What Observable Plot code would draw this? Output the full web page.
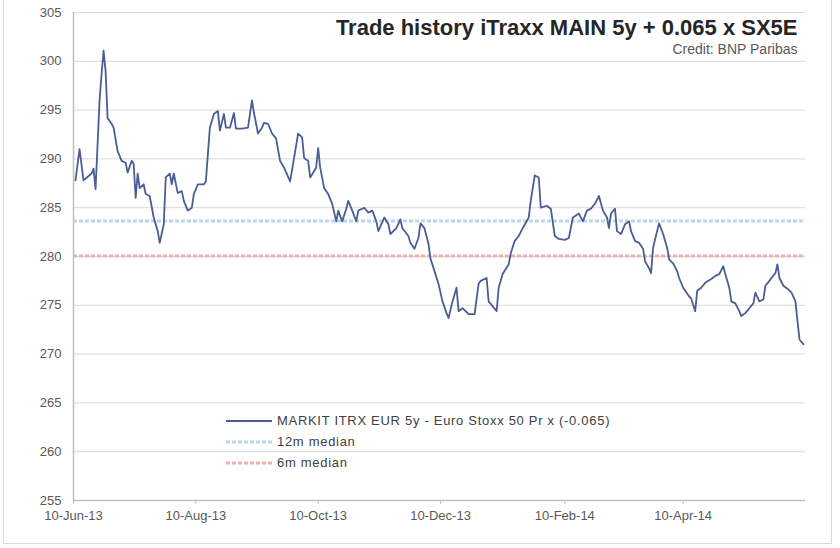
<!DOCTYPE html>
<html>
<head>
<meta charset="utf-8">
<script src="https://cdn.jsdelivr.net/npm/d3@7"></script>
<script src="https://cdn.jsdelivr.net/npm/@observablehq/plot@0.6"></script>
<style>
  html, body { margin: 0; padding: 0; background: #fff; }
  #wrap { position: relative; width: 840px; height: 548px; overflow: hidden; font-family: "Liberation Sans", Arial, sans-serif; }
  #frame { position: absolute; left: 3px; top: -2px; width: 829px; height: 546px; border: 1px solid #d9d9d9; box-sizing: border-box; pointer-events: none; }
  #legend { position: absolute; left: 226px; top: 410px; font-size: 13px; letter-spacing: 0.7px; color: #404040; line-height: 21px; }
  #legend .row { display: flex; align-items: center; height: 21px; }
  #legend svg { margin-right: 5px; }
</style>
</head>
<body>
<div id="wrap">
  <div id="chart"></div>
  <div id="frame"></div>
  <div id="legend"></div>
</div>
<script>
const titleText = "Trade history iTraxx MAIN 5y + 0.065 x SX5E";
const creditText = "Credit: BNP Paribas";
const seriesName = "MARKIT ITRX EUR 5y - Euro Stoxx 50 Pr x (-0.065)";
const median12Name = "12m median";
const median6Name = "6m median";

const dates = [
  "2013-06-11","2013-06-13","2013-06-15","2013-06-19","2013-06-20","2013-06-21","2013-06-23","2013-06-24","2013-06-25","2013-06-26",
  "2013-06-27","2013-06-29","2013-06-30","2013-07-02","2013-07-04","2013-07-06","2013-07-07","2013-07-09","2013-07-10","2013-07-11",
  "2013-07-12","2013-07-13","2013-07-15","2013-07-16","2013-07-18","2013-07-20","2013-07-22","2013-07-23","2013-07-25","2013-07-26",
  "2013-07-28","2013-07-29","2013-07-30","2013-08-01","2013-08-03","2013-08-04","2013-08-06","2013-08-08","2013-08-09","2013-08-11",
  "2013-08-14","2013-08-15","2013-08-17","2013-08-19","2013-08-21","2013-08-22","2013-08-24","2013-08-25","2013-08-27","2013-08-29",
  "2013-08-30","2013-09-02","2013-09-05","2013-09-07","2013-09-08","2013-09-10","2013-09-12","2013-09-13","2013-09-15","2013-09-17",
  "2013-09-19","2013-09-21","2013-09-23","2013-09-26","2013-09-28","2013-09-30","2013-10-02","2013-10-03","2013-10-05","2013-10-06",
  "2013-10-09","2013-10-10","2013-10-11","2013-10-13","2013-10-15","2013-10-17","2013-10-19","2013-10-20","2013-10-22","2013-10-24",
  "2013-10-25","2013-10-27","2013-10-29","2013-10-30","2013-11-02","2013-11-04","2013-11-06","2013-11-08","2013-11-09","2013-11-12",
  "2013-11-14","2013-11-15","2013-11-18","2013-11-20","2013-11-21","2013-11-24","2013-11-25","2013-11-27","2013-11-29","2013-11-30",
  "2013-12-02","2013-12-04","2013-12-05","2013-12-07","2013-12-09","2013-12-11","2013-12-13","2013-12-14","2013-12-16","2013-12-18",
  "2013-12-19","2013-12-21","2013-12-24","2013-12-27","2013-12-29","2013-12-30","2014-01-02","2014-01-03","2014-01-07","2014-01-08",
  "2014-01-10","2014-01-13","2014-01-14","2014-01-16","2014-01-18","2014-01-20","2014-01-23","2014-01-24","2014-01-26","2014-01-28",
  "2014-01-29","2014-02-01","2014-02-03","2014-02-05","2014-02-07","2014-02-10","2014-02-12","2014-02-14","2014-02-17","2014-02-19",
  "2014-02-21","2014-02-23","2014-02-25","2014-02-27","2014-03-01","2014-03-03","2014-03-04","2014-03-05","2014-03-07","2014-03-08",
  "2014-03-10","2014-03-12","2014-03-14","2014-03-15","2014-03-17","2014-03-19","2014-03-21","2014-03-22","2014-03-24","2014-03-25",
  "2014-03-26","2014-03-28","2014-03-29","2014-03-31","2014-04-02","2014-04-03","2014-04-05","2014-04-07","2014-04-08","2014-04-10",
  "2014-04-13","2014-04-14","2014-04-16","2014-04-17","2014-04-19","2014-04-21","2014-04-24","2014-04-26","2014-04-28","2014-04-30",
  "2014-05-01","2014-05-03","2014-05-04","2014-05-06","2014-05-08","2014-05-09","2014-05-11","2014-05-13","2014-05-15","2014-05-16",
  "2014-05-18","2014-05-20","2014-05-21","2014-05-23","2014-05-24","2014-05-26","2014-05-27","2014-05-28","2014-05-30","2014-06-01",
  "2014-06-03","2014-06-05","2014-06-06","2014-06-07","2014-06-09"
];
const values = [
  287.8,291.0,287.8,288.5,289.0,286.9,296.0,298.7,301.1,299.0,
  294.2,293.6,293.2,290.8,289.8,289.6,288.6,289.8,289.5,286.0,
  288.5,287.0,287.4,286.4,286.2,284.0,282.6,281.4,283.3,288.1,
  288.5,287.4,288.5,286.5,286.7,285.7,284.7,285.0,286.4,287.4,
  287.4,287.7,293.2,294.6,294.9,292.9,294.6,293.2,293.2,294.7,
  293.1,293.1,293.2,296.0,294.7,292.6,293.2,293.7,293.6,292.6,
  292.1,289.8,289.1,287.7,290.1,292.6,292.2,290.1,289.8,288.1,
  289.1,291.1,289.1,287.0,286.4,285.4,283.6,284.7,283.6,284.9,
  285.7,284.7,283.6,284.7,285.0,284.5,284.7,283.6,282.6,284.0,
  283.3,282.3,282.9,283.8,282.9,282.1,281.4,280.8,281.9,283.4,
  282.9,281.3,279.8,278.5,277.2,275.4,274.2,273.7,275.4,276.8,
  274.4,274.7,274.1,274.1,277.2,277.5,277.8,275.4,274.4,276.8,
  278.2,279.2,280.3,281.6,282.1,282.9,284.0,285.7,288.3,288.1,
  285.0,285.2,284.9,282.1,281.8,281.7,281.9,284.0,284.4,283.6,
  284.7,284.9,285.4,286.2,284.7,284.0,282.9,284.4,284.9,282.6,
  282.3,283.3,283.6,282.6,281.6,281.4,280.8,279.5,278.8,278.3,
  280.9,282.6,283.4,282.3,280.9,279.7,279.3,278.5,277.8,276.8,
  275.9,275.7,274.4,276.5,276.8,277.3,277.7,278.0,278.2,279.0,
  278.2,276.8,275.4,275.2,274.4,273.9,274.2,274.7,275.2,276.3,
  275.4,275.6,277.0,277.5,277.8,278.3,279.2,277.8,277.0,276.7,
  276.3,275.4,273.4,271.5,271.0
];
const median12 = 283.65;
const median6 = 280.05;
const yTicks = [255, 260, 265, 270, 275, 280, 285, 290, 295, 300, 305];
const xTicks = ["2013-06-10","2013-08-10","2013-10-10","2013-12-10","2014-02-10","2014-04-10"];
const xDomain = ["2013-06-10", "2014-06-10"];

const lineColor = "#4a5e95";
const blueMed = "#b9d5f0";
const redMed = "#f3b0b0";

const data = dates.map((d, i) => ({date: new Date(d), value: values[i]}));
const fmt = d3.utcFormat("%d-%b-%y");

const chart = Plot.plot({
  width: 840,
  height: 548,
  marginLeft: 73,
  marginRight: 35,
  marginTop: 12,
  marginBottom: 48,
  style: {fontFamily: "Liberation Sans, Arial, sans-serif", fontSize: "13px", color: "#595959", background: "transparent"},
  x: {type: "utc", domain: xDomain.map(d => new Date(d)), ticks: xTicks.map(d => new Date(d)), tickFormat: fmt, label: null},
  y: {domain: [255, 305], ticks: yTicks, label: null},
  marks: [
    Plot.gridY(yTicks, {stroke: "#d9d9d9", strokeOpacity: 1, strokeWidth: 1}),
    Plot.ruleY([median12], {stroke: blueMed, strokeWidth: 3, strokeDasharray: "4,2"}),
    Plot.ruleY([median6], {stroke: redMed, strokeWidth: 3, strokeDasharray: "4,2"}),
    Plot.axisY({ticks: yTicks, tickSize: 0, tickPadding: 12, fill: "#595959", fontSize: 13}),
    Plot.axisX({ticks: xTicks.map(d => new Date(d)), tickFormat: fmt, tickSize: 4, tickPadding: 6, stroke: "#bfbfbf", fill: "#595959", fontSize: 13}),
    Plot.ruleY([255], {stroke: "#bfbfbf", strokeWidth: 1.5}),
    Plot.ruleX([new Date(xDomain[0])], {stroke: "#bfbfbf", strokeWidth: 1.5}),
    Plot.line(data, {x: "date", y: "value", stroke: lineColor, strokeWidth: 1.8}),
    Plot.text([titleText], {frameAnchor: "top-right", dx: -8, dy: 7, fontSize: 22, fontWeight: "bold", fill: "#262626", letterSpacing: "1.8px"}),
    Plot.text([creditText], {frameAnchor: "top-right", dx: -8, dy: 32, fontSize: 14, fill: "#595959", letterSpacing: "0.8px"})
  ]
});
document.getElementById("chart").appendChild(chart);

const legendItems = [
  {name: seriesName, color: lineColor, dash: null, w: 1.8},
  {name: median12Name, color: blueMed, dash: "4,2", w: 3},
  {name: median6Name, color: redMed, dash: "4,2", w: 3}
];
const legend = document.getElementById("legend");
for (const it of legendItems) {
  const row = document.createElement("div");
  row.className = "row";
  row.innerHTML = `<svg width="46" height="6"><line x1="0" x2="46" y1="3" y2="3" stroke="${it.color}" stroke-width="${it.w}" ${it.dash ? `stroke-dasharray="${it.dash}"` : ""}/></svg><span>${it.name}</span>`;
  legend.appendChild(row);
}
</script>
</body>
</html>
